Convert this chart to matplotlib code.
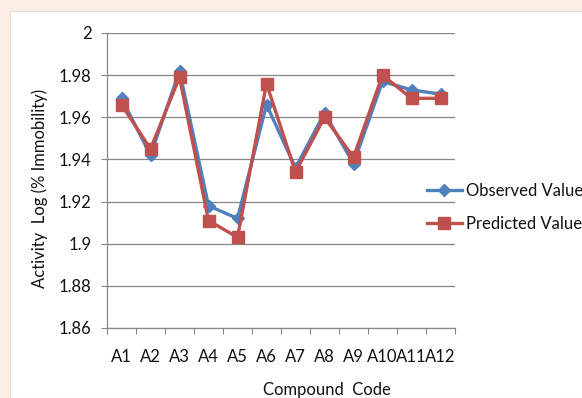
import matplotlib
matplotlib.use("Agg")
import matplotlib.pyplot as plt
from matplotlib.patches import Rectangle
from matplotlib.ticker import FixedLocator, NullFormatter

categories = ["A1", "A2", "A3", "A4", "A5", "A6", "A7", "A8", "A9", "A10", "A11", "A12"]
observed = [1.969, 1.942, 1.982, 1.918, 1.912, 1.966, 1.936, 1.962, 1.938, 1.977, 1.973, 1.971]
predicted = [1.966, 1.945, 1.979, 1.911, 1.903, 1.976, 1.934, 1.960, 1.941, 1.980, 1.969, 1.969]
yticks = [1.86, 1.88, 1.90, 1.92, 1.94, 1.96, 1.98, 2.00]
ytick_labels = ["1.86", "1.88", "1.9", "1.92", "1.94", "1.96", "1.98", "2"]

plt.rcParams['font.family'] = ['Lato', 'DejaVu Sans']
W, H = 582, 398
fig = plt.figure(figsize=(W / 100, H / 100), dpi=100)
fig.patch.set_facecolor('#FBEDE3')
fig.patches.append(Rectangle((10 / W, 0), 1, 1 - 11 / H, transform=fig.transFigure,
                             facecolor='white', edgecolor='#E8E0DA', linewidth=0.8, zorder=-5))

ax = fig.add_axes([107 / W, 1 - 328 / H, (455 - 107) / W, (328 - 33) / H])
ax.set_zorder(2)
ax.set_facecolor('none')
x = list(range(len(categories)))
ax.plot(x, observed, color='#4F81BD', linewidth=2.4, marker='D', markersize=6.5,
        label='Observed Value', zorder=3)
ax.plot(x, predicted, color='#C0504D', linewidth=2.4, marker='s', markersize=9,
        label='Predicted Value', zorder=4)

ax.set_xlim(-0.5, len(categories) - 0.5)
ax.set_ylim(1.86, 2.0)
ax.set_yticks(yticks)
ax.set_yticklabels(ytick_labels)
ax.set_xticks(x)
ax.set_xticklabels(categories)
ax.xaxis.set_minor_locator(FixedLocator([i - 0.5 for i in range(len(categories) + 1)]))
ax.xaxis.set_minor_formatter(NullFormatter())
ax.tick_params(axis='x', which='major', length=0, pad=15, labelsize=12, colors='#111111')
ax.tick_params(axis='x', which='minor', length=4, width=0.8, color='#868686')
ax.tick_params(axis='y', length=4, width=0.8, color='#868686', pad=7, labelsize=12, labelcolor='#111111')
ax.grid(axis='y', color='#868686', linewidth=0.9)
ax.set_axisbelow(True)
for s in ['top', 'right']:
    ax.spines[s].set_visible(False)
for s in ['left', 'bottom']:
    ax.spines[s].set_color('#868686')
    ax.spines[s].set_linewidth(0.9)

fig.text(40 / W, 1 - 188 / H, 'Activity  Log (% Immobility)', rotation=90,
         ha='center', va='center', fontsize=12, color='#111111')
fig.text(327 / W, 1 - 390 / H, 'Compound  Code', ha='center', va='center',
         fontsize=12, color='#111111')

leg = fig.legend(loc='upper left', bbox_to_anchor=(427 / W, 1 - 183 / H), frameon=False,
                 fontsize=12, handlelength=2.1, handletextpad=0.25, labelspacing=1.0,
                 borderpad=0, borderaxespad=0)
for t in leg.get_texts():
    t.set_color('#111111')

fig.savefig('out.png', dpi=100, facecolor=fig.get_facecolor())
